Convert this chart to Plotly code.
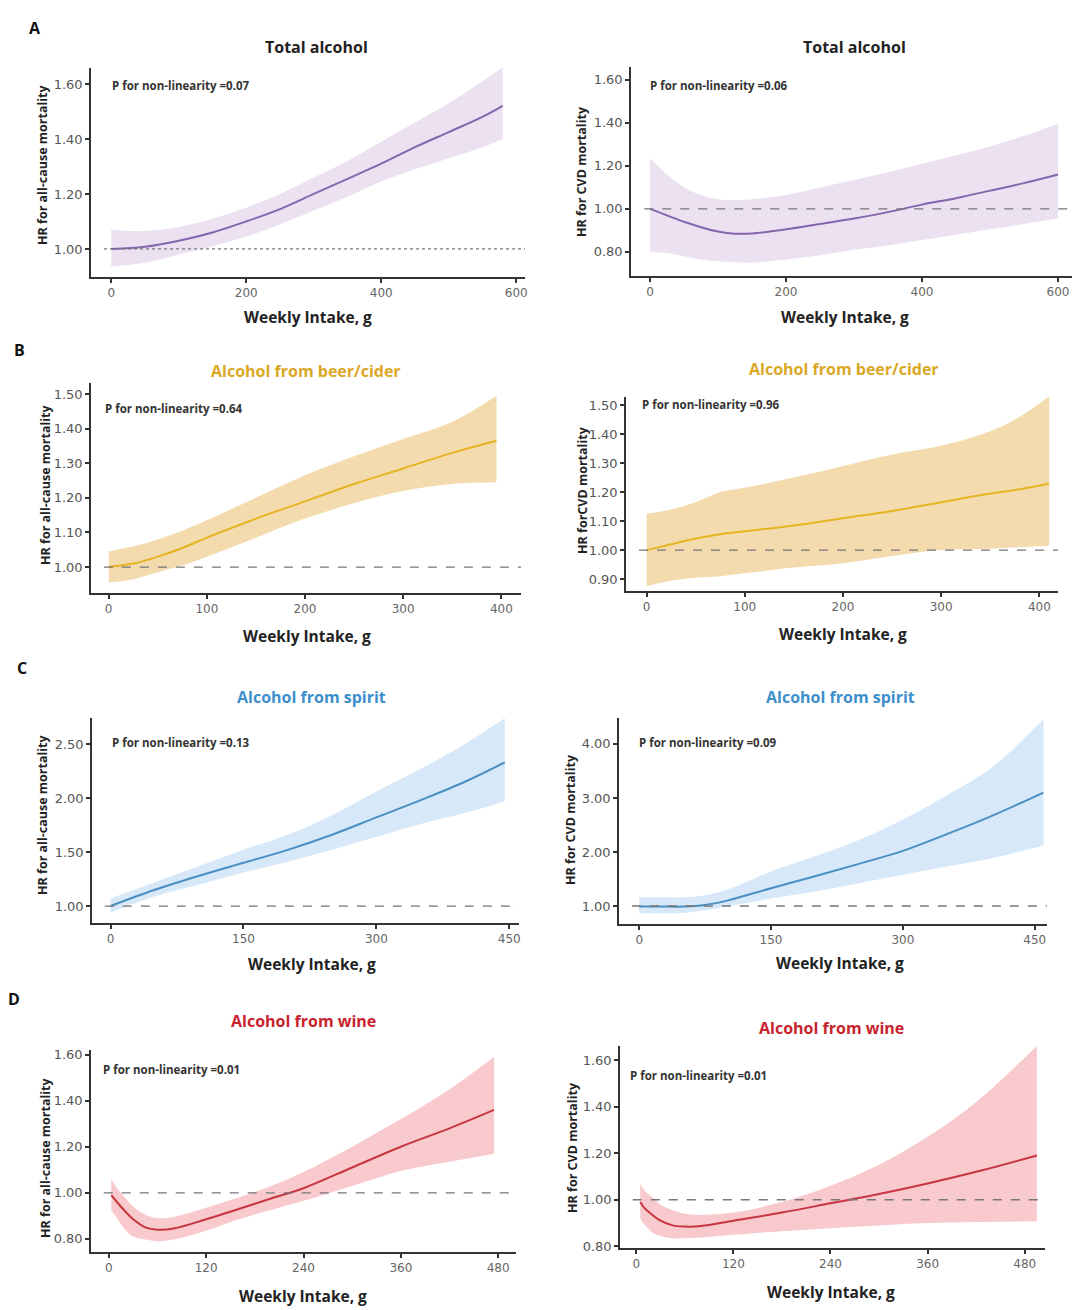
import plotly.graph_objects as go

# the page puts the figure 8px in from the top-left corner, so the figure is
# drawn 8px smaller and every position below is shifted by that offset
OFF = 8
W, H = 1080 - OFF, 1310 - OFF

# ---- data (weekly intake g, hazard ratio) ----
total_all_x = [0, 50, 100, 150, 200, 250, 300, 350, 400, 450, 500, 550, 580]
total_all_hr = [1.00, 1.008, 1.03, 1.06, 1.10, 1.145, 1.20, 1.255, 1.31, 1.37, 1.425, 1.48, 1.52]
total_all_hi = [1.07, 1.065, 1.08, 1.11, 1.15, 1.20, 1.26, 1.32, 1.39, 1.46, 1.53, 1.61, 1.66]
total_all_lo = [0.935, 0.95, 0.98, 1.01, 1.045, 1.09, 1.14, 1.19, 1.245, 1.29, 1.33, 1.37, 1.40]

total_cvd_x = [0, 25, 50, 75, 100, 125, 150, 200, 250, 300, 350, 400, 450, 500, 550, 600]
total_cvd_hr = [1.00, 0.97, 0.94, 0.915, 0.895, 0.885, 0.886, 0.905, 0.93, 0.955, 0.985, 1.02, 1.05, 1.085, 1.12, 1.16]
total_cvd_hi = [1.235, 1.16, 1.10, 1.065, 1.045, 1.04, 1.045, 1.065, 1.10, 1.135, 1.17, 1.21, 1.25, 1.29, 1.34, 1.395]
total_cvd_lo = [0.80, 0.795, 0.78, 0.765, 0.757, 0.752, 0.75, 0.765, 0.785, 0.81, 0.83, 0.855, 0.88, 0.905, 0.93, 0.955]

beer_all_x = [0, 25, 50, 75, 100, 150, 200, 250, 300, 350, 395]
beer_all_hr = [1.00, 1.01, 1.03, 1.055, 1.085, 1.14, 1.19, 1.24, 1.285, 1.33, 1.365]
beer_all_hi = [1.045, 1.06, 1.08, 1.105, 1.135, 1.20, 1.265, 1.32, 1.37, 1.42, 1.495]
beer_all_lo = [0.955, 0.965, 0.985, 1.005, 1.03, 1.085, 1.14, 1.185, 1.22, 1.24, 1.245]

beer_cvd_x = [0, 25, 50, 75, 100, 150, 200, 250, 300, 350, 380, 410]
beer_cvd_hr = [1.00, 1.02, 1.04, 1.055, 1.065, 1.085, 1.11, 1.135, 1.165, 1.195, 1.21, 1.23]
beer_cvd_hi = [1.125, 1.14, 1.165, 1.20, 1.215, 1.25, 1.29, 1.33, 1.36, 1.41, 1.46, 1.53]
beer_cvd_lo = [0.875, 0.895, 0.905, 0.91, 0.92, 0.94, 0.955, 0.98, 1.0, 1.005, 1.01, 1.015]

spirit_all_x = [0, 50, 100, 150, 200, 250, 300, 350, 400, 445]
spirit_all_hr = [1.00, 1.15, 1.28, 1.40, 1.52, 1.66, 1.82, 1.98, 2.15, 2.33]
spirit_all_hi = [1.07, 1.22, 1.37, 1.52, 1.66, 1.84, 2.06, 2.27, 2.50, 2.74]
spirit_all_lo = [0.94, 1.09, 1.20, 1.31, 1.41, 1.52, 1.64, 1.76, 1.86, 1.97]

spirit_cvd_x = [0, 25, 50, 75, 100, 150, 200, 250, 300, 350, 400, 460]
spirit_cvd_hr = [0.99, 0.99, 0.99, 1.02, 1.10, 1.33, 1.55, 1.78, 2.02, 2.33, 2.66, 3.10]
spirit_cvd_hi = [1.16, 1.16, 1.16, 1.20, 1.30, 1.64, 1.92, 2.22, 2.60, 3.05, 3.55, 4.45]
spirit_cvd_lo = [0.86, 0.86, 0.87, 0.92, 0.99, 1.14, 1.27, 1.42, 1.58, 1.73, 1.88, 2.12]

wine_all_x = [3, 10, 20, 30, 45, 60, 80, 120, 160, 200, 240, 300, 360, 420, 475]
wine_all_hr = [0.99, 0.96, 0.92, 0.885, 0.85, 0.84, 0.845, 0.885, 0.93, 0.975, 1.02, 1.11, 1.20, 1.28, 1.36]
wine_all_hi = [1.06, 1.02, 0.98, 0.94, 0.905, 0.89, 0.895, 0.935, 0.98, 1.03, 1.09, 1.20, 1.32, 1.45, 1.59]
wine_all_lo = [0.925, 0.89, 0.84, 0.81, 0.797, 0.79, 0.797, 0.835, 0.885, 0.925, 0.965, 1.03, 1.095, 1.135, 1.17]

wine_cvd_x = [5, 10, 20, 30, 45, 60, 80, 120, 180, 240, 300, 360, 420, 495]
wine_cvd_hr = [0.99, 0.965, 0.935, 0.91, 0.89, 0.885, 0.887, 0.91, 0.945, 0.985, 1.025, 1.07, 1.12, 1.19]
wine_cvd_hi = [1.07, 1.04, 1.01, 0.98, 0.955, 0.94, 0.935, 0.945, 0.99, 1.06, 1.15, 1.27, 1.42, 1.66]
wine_cvd_lo = [0.92, 0.895, 0.86, 0.845, 0.835, 0.835, 0.838, 0.85, 0.865, 0.878, 0.89, 0.90, 0.905, 0.908]

p_values = ["0.07", "0.06", "0.64", "0.96", "0.13", "0.09", "0.01", "0.01"]

# colours per alcohol type: (line, band, title)
colors = {
    "total": ("#8466ad", "rgba(221,205,231,0.6)", "#222222"),
    "beer": ("#e6b422", "rgba(238,204,140,0.7)", "#dba826"),
    "spirit": ("#4a8fc2", "rgba(205,228,247,0.8)", "#3d8fcc"),
    "wine": ("#c73540", "rgba(245,180,184,0.7)", "#c8232c"),
}


def px(x):
    return (x - OFF) / W


def py(y):
    return 1 - (y - OFF) / H


panels = [
    dict(d=(total_all_x, total_all_hr, total_all_hi, total_all_lo), kind="total", title="Total alcohol",
         ytitle="HR for all-cause mortality", box=(91, 525, 68, 277), xr=[-30, 613], yr=[0.898, 1.658],
         xt=[0, 200, 400, 600], yt=[1.0, 1.2, 1.4, 1.6], tp=(316, 47), yp=(42, 165), pp=(110, 86), xp=(308, 317),
         dash="dot"),
    dict(d=(total_cvd_x, total_cvd_hr, total_cvd_hi, total_cvd_lo), kind="total", title="Total alcohol",
         ytitle="HR for CVD mortality", box=(631, 1073, 67, 276), xr=[-28, 622], yr=[0.688, 1.66],
         xt=[0, 200, 400, 600], yt=[0.8, 1.0, 1.2, 1.4, 1.6], tp=(854, 47), yp=(581, 172), pp=(648, 86), xp=(845, 317),
         dash="dash"),
    dict(d=(beer_all_x, beer_all_hr, beer_all_hi, beer_all_lo), kind="beer", title="Alcohol from beer/cider",
         ytitle="HR for all-cause mortality", box=(91, 521, 383, 593), xr=[-18, 420], yr=[0.925, 1.532],
         xt=[0, 100, 200, 300, 400], yt=[1.0, 1.1, 1.2, 1.3, 1.4, 1.5], tp=(306, 371), yp=(45, 485), pp=(103, 408),
         xp=(307, 636), dash="dash"),
    dict(d=(beer_cvd_x, beer_cvd_hr, beer_cvd_hi, beer_cvd_lo), kind="beer", title="Alcohol from beer/cider",
         ytitle="HR forCVD mortality", box=(626, 1058, 397, 591), xr=[-21, 419], yr=[0.859, 1.528],
         xt=[0, 100, 200, 300, 400], yt=[0.9, 1.0, 1.1, 1.2, 1.3, 1.4, 1.5], tp=(844, 369), yp=(582, 490),
         pp=(640, 405), xp=(843, 634), dash="dash"),
    dict(d=(spirit_all_x, spirit_all_hr, spirit_all_hi, spirit_all_lo), kind="spirit", title="Alcohol from spirit",
         ytitle="HR for all-cause mortality", box=(92, 519, 718, 923), xr=[-21, 461], yr=[0.843, 2.74],
         xt=[0, 150, 300, 450], yt=[1.0, 1.5, 2.0, 2.5], tp=(311, 697), yp=(42, 815), pp=(110, 742),
         xp=(312, 964), dash="dash"),
    dict(d=(spirit_cvd_x, spirit_cvd_hr, spirit_cvd_hi, spirit_cvd_lo), kind="spirit", title="Alcohol from spirit",
         ytitle="HR for CVD mortality", box=(619, 1047, 718, 924), xr=[-23, 464], yr=[0.667, 4.48],
         xt=[0, 150, 300, 450], yt=[1.0, 2.0, 3.0, 4.0], tp=(840, 697), yp=(570, 820), pp=(637, 742),
         xp=(840, 963), dash="dash"),
    dict(d=(wine_all_x, wine_all_hr, wine_all_hi, wine_all_lo), kind="wine", title="Alcohol from wine",
         ytitle="HR for all-cause mortality", box=(91, 516, 1050, 1252), xr=[-22, 502], yr=[0.743, 1.62],
         xt=[0, 120, 240, 360, 480], yt=[0.8, 1.0, 1.2, 1.4, 1.6], tp=(303, 1021), yp=(45, 1158), pp=(101, 1069),
         xp=(303, 1296), dash="dash"),
    dict(d=(wine_cvd_x, wine_cvd_hr, wine_cvd_hi, wine_cvd_lo), kind="wine", title="Alcohol from wine",
         ytitle="HR for CVD mortality", box=(620, 1045, 1046, 1248), xr=[-20, 505], yr=[0.793, 1.66],
         xt=[0, 120, 240, 360, 480], yt=[0.8, 1.0, 1.2, 1.4, 1.6], tp=(831, 1028), yp=(572, 1148), pp=(628, 1075),
         xp=(831, 1292), dash="dash"),
]

fig = go.Figure()
layout = {}
annotations = []
shapes = []
bold = "Open Sans"


def note(text, x, y, size, color, **kw):
    d = dict(text=text, x=px(x), y=py(y), xref="paper", yref="paper", showarrow=False,
             xanchor="center", yanchor="middle", font=dict(family=bold, size=size, color=color))
    d.update(kw)
    annotations.append(d)


for i, p in enumerate(panels):
    n = i + 1
    xa = "x" if n == 1 else f"x{n}"
    ya = "y" if n == 1 else f"y{n}"
    x, hr, hi, lo = p["d"]
    line_c, band_c, title_c = colors[p["kind"]]

    fig.add_trace(go.Scatter(x=x, y=hi, mode="lines", line=dict(width=0, shape="spline"),
                             xaxis=xa, yaxis=ya, showlegend=False, hoverinfo="skip"))
    fig.add_trace(go.Scatter(x=x, y=lo, mode="lines", line=dict(width=0, shape="spline"),
                             fill="tonexty", fillcolor=band_c,
                             xaxis=xa, yaxis=ya, showlegend=False, hoverinfo="skip"))
    fig.add_trace(go.Scatter(x=x, y=hr, mode="lines", line=dict(color=line_c, width=2, shape="spline"),
                             xaxis=xa, yaxis=ya, showlegend=False))

    l, r, t, b = p["box"]
    axis_common = dict(showline=True, linecolor="#333333", linewidth=1.5, ticks="outside", ticklen=4,
                       tickwidth=1.5, tickcolor="#333333", showgrid=False, zeroline=False, automargin=False)
    layout["xaxis" if n == 1 else f"xaxis{n}"] = dict(
        domain=[px(l), px(r)], anchor=ya, range=p["xr"], tickvals=p["xt"],
        tickfont=dict(family="DejaVu Sans", size=12, color="#666666"), **axis_common)
    layout["yaxis" if n == 1 else f"yaxis{n}"] = dict(
        domain=[py(b), py(t)], anchor=xa, range=p["yr"], tickvals=p["yt"],
        ticktext=[f"{v:.2f}" for v in p["yt"]],
        tickfont=dict(family="DejaVu Sans", size=13, color="#555555"), **axis_common)

    shapes.append(dict(type="line", xref=f"{xa} domain", yref=ya, x0=0.03, x1=1, y0=1, y1=1,
                       line=dict(color="#777777", width=1.3, dash=p["dash"])))

    note(f"<b>{p['title']}</b>", p["tp"][0], p["tp"][1], 16, title_c)
    note(f"<b>{p['ytitle']}</b>", p["yp"][0], p["yp"][1], 12.5, "#222222", textangle=-90)
    note("<b>P for non-linearity =" + p_values[i] + "</b>", p["pp"][0], p["pp"][1], 11.5, "#333333",
         xanchor="left")
    note("<b>Weekly Intake, g</b>", p["xp"][0], p["xp"][1], 15.5, "#222222")

for letter, lx, ly in [("A", 35, 28), ("B", 19, 350), ("C", 22, 668), ("D", 14, 999)]:
    note(f"<b>{letter}</b>", lx, ly, 16, "#111111")

fig.update_layout(width=W, height=H, margin=dict(l=0, r=0, t=0, b=0),
                  paper_bgcolor="white", plot_bgcolor="white",
                  annotations=annotations, shapes=shapes, **layout)

fig.write_html("out.html")
